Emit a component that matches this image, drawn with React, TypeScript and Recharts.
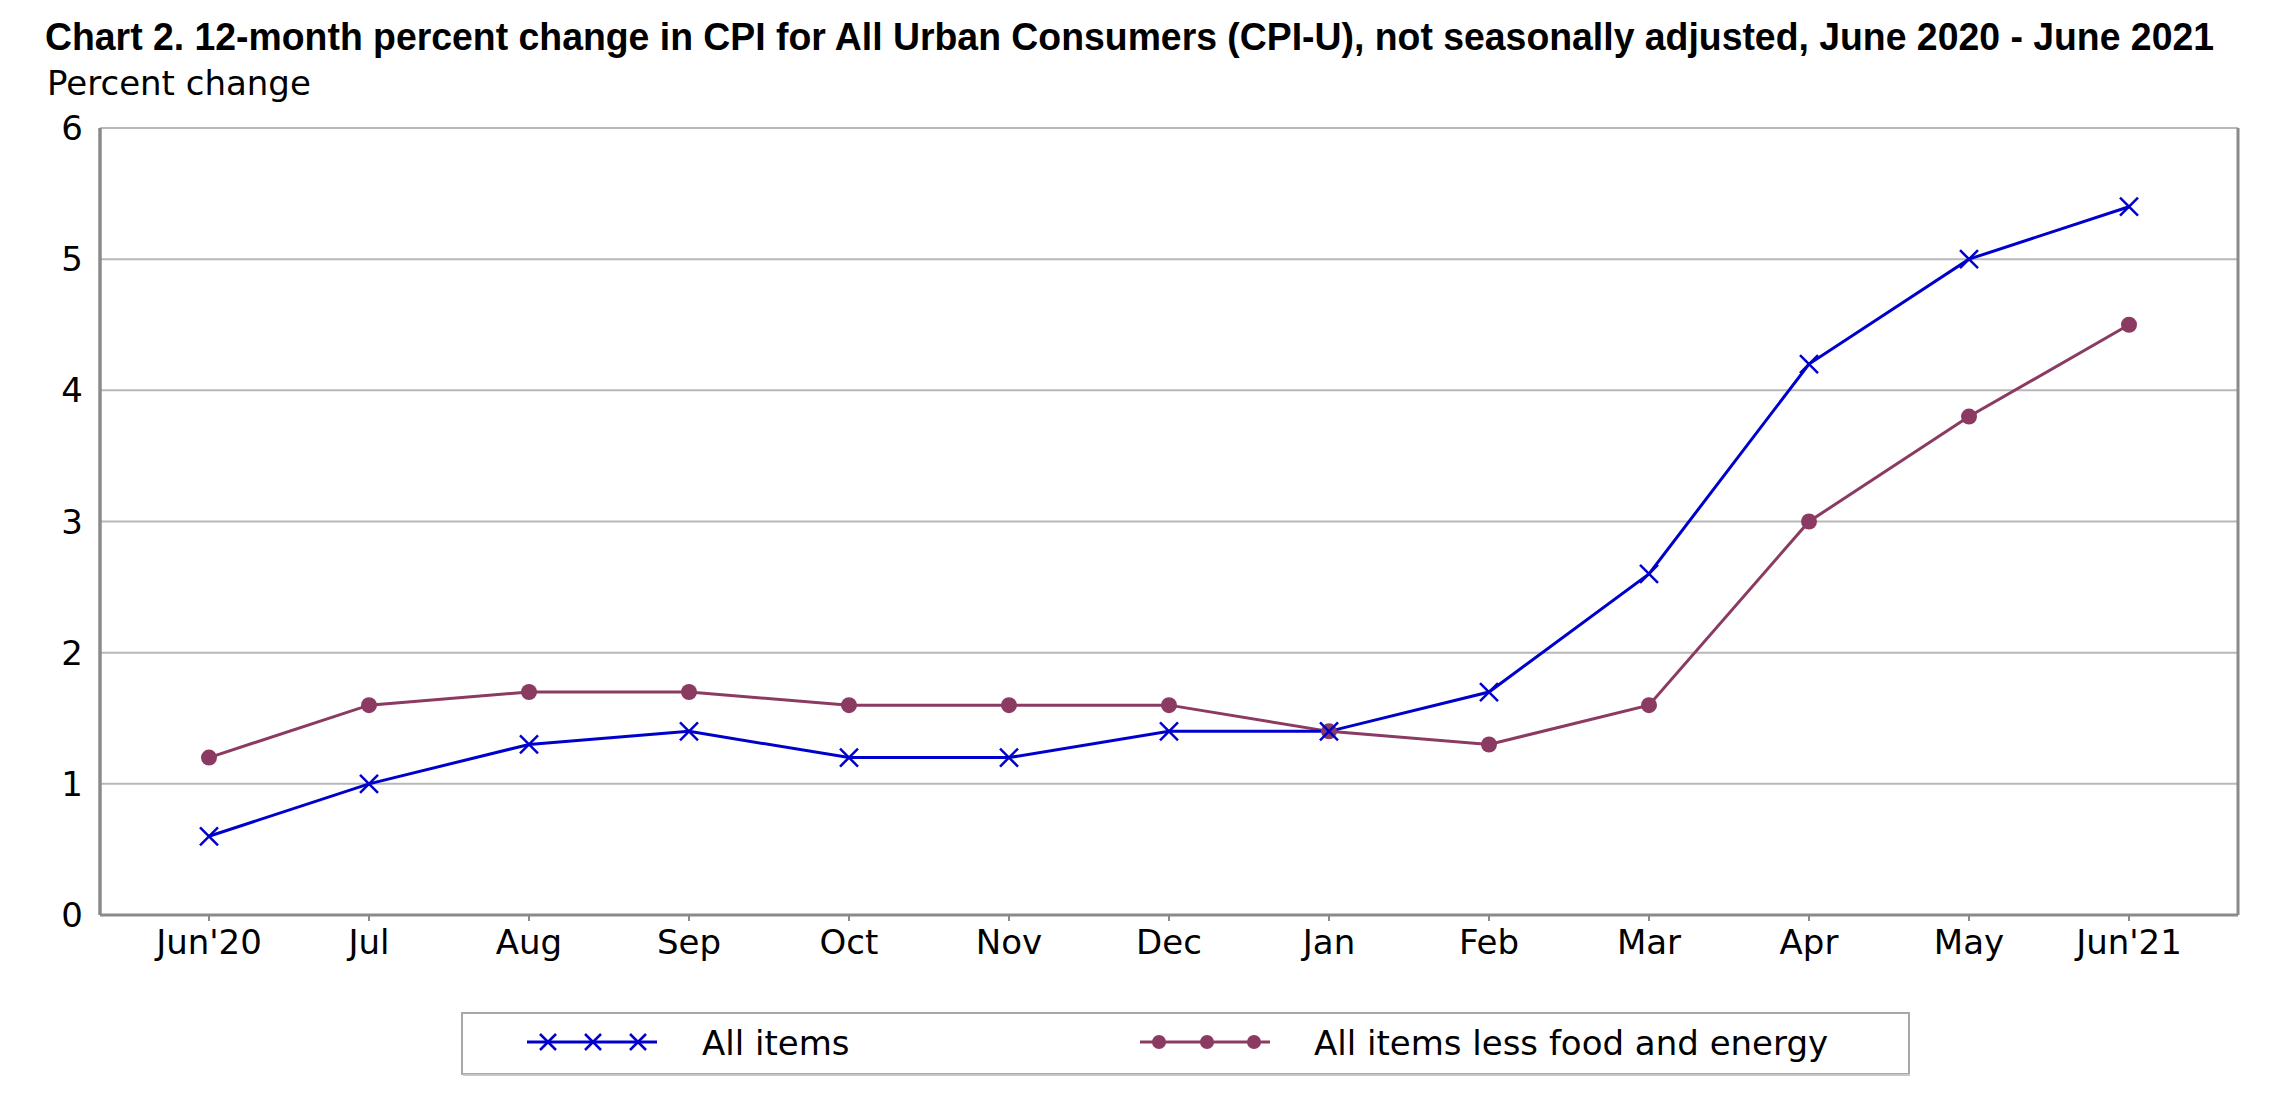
import React from "react";
import { LineChart, Line, XAxis, YAxis, CartesianGrid } from "recharts";

const months = ["Jun'20", "Jul", "Aug", "Sep", "Oct", "Nov", "Dec", "Jan", "Feb", "Mar", "Apr", "May", "Jun'21"];
const allItems = [0.6, 1.0, 1.3, 1.4, 1.2, 1.2, 1.4, 1.4, 1.7, 2.6, 4.2, 5.0, 5.4];
const coreItems = [1.2, 1.6, 1.7, 1.7, 1.6, 1.6, 1.6, 1.4, 1.3, 1.6, 3.0, 3.8, 4.5];
const yTicks = [0, 1, 2, 3, 4, 5, 6];

const seriesNames = ["All items", "All items less food and energy"];
const BLUE = "#0000CC";
const MAROON = "#8B3A62";

const data = months.map((m, i) => ({ month: m, all: allItems[i], core: coreItems[i] }));

const FONT = "'DejaVu Sans', Verdana, sans-serif";
const TITLE =
  "Chart 2. 12-month percent change in CPI for All Urban Consumers (CPI-U), not seasonally adjusted, June 2020 - June 2021";

const XMark = ({ cx, cy, size = 9 }: { cx: number; cy: number; size?: number }) => (
  <g>
    <line x1={cx - size} y1={cy - size} x2={cx + size} y2={cy + size} stroke={BLUE} strokeWidth={2.5} />
    <line x1={cx - size} y1={cy + size} x2={cx + size} y2={cy - size} stroke={BLUE} strokeWidth={2.5} />
  </g>
);

const renderX = (props: any) => {
  const { cx, cy, index } = props;
  if (cx == null || cy == null) return <g key={`x-${index}`} />;
  return (
    <g key={`x-${index}`}>
      <XMark cx={cx} cy={cy} />
    </g>
  );
};

const renderDot = (props: any) => {
  const { cx, cy, index } = props;
  if (cx == null || cy == null) return <g key={`d-${index}`} />;
  return <circle key={`d-${index}`} cx={cx} cy={cy} r={8} fill={MAROON} stroke="none" />;
};

const borderVertical = (props: any) => {
  const off = props.offset || {};
  return [off.left, off.left + off.width];
};

export default function App() {
  const W = 2270;
  const H = 1102;
  return (
    <div style={{ position: "relative", width: W, height: H, background: "#fff" }}>
      <LineChart
        width={W}
        height={H}
        data={data}
        margin={{ top: 120, right: 40, bottom: 135, left: 32 }}
      >
        <CartesianGrid horizontal={true} vertical={false} stroke="#b8b8b8" strokeWidth={2} />
        <CartesianGrid
          horizontal={false}
          vertical={true}
          verticalCoordinatesGenerator={borderVertical}
          stroke="#8a8a8a"
          strokeWidth={3}
        />
        <XAxis
          dataKey="month"
          interval={0}
          height={60}
          padding={{ left: 109, right: 109 }}
          axisLine={{ stroke: "#8a8a8a", strokeWidth: 3 }}
          tickLine={{ stroke: "#8a8a8a", strokeWidth: 2 }}
          tickSize={6}
          tickMargin={9}
          tick={{ fill: "#000", fontSize: 34, fontFamily: FONT }}
        />
        <XAxis
          xAxisId="top"
          orientation="top"
          dataKey="month"
          height={0}
          tick={false}
          tickLine={false}
          axisLine={{ stroke: "#8a8a8a", strokeWidth: 3 }}
        />
        <YAxis
          domain={[0, 6]}
          ticks={yTicks}
          interval={0}
          width={60}
          axisLine={{ stroke: "#8a8a8a", strokeWidth: 3 }}
          tickLine={false}
          tickSize={6}
          tickMargin={11}
          tick={{ fill: "#000", fontSize: 34, fontFamily: FONT }}
        />
        <Line
          type="linear"
          dataKey="core"
          name={seriesNames[1]}
          stroke={MAROON}
          strokeWidth={3}
          dot={renderDot}
          activeDot={false}
          isAnimationActive={false}
        />
        <Line
          type="linear"
          dataKey="all"
          name={seriesNames[0]}
          stroke={BLUE}
          strokeWidth={3}
          dot={renderX}
          activeDot={false}
          isAnimationActive={false}
        />
      </LineChart>
      <svg
        width={W}
        height={H}
        style={{ position: "absolute", left: 0, top: 0, pointerEvents: "none" }}
      >
        <text
          x={37}
          y={42}
          fontFamily="'Liberation Sans Narrow', 'Liberation Sans', Arial, sans-serif"
          fontWeight="bold"
          fontSize={38}
          textLength={2169}
          lengthAdjust="spacingAndGlyphs"
          fill="#000"
        >
          {TITLE}
        </text>
        <text x={39} y={87} fontFamily={FONT} fontSize={34} fill="#000">
          Percent change
        </text>
        <rect x={454} y={1005} width={1447} height={61} fill="#fff" stroke="#a8a8a8" strokeWidth={2} />
        <line x1={455} y1={1067} x2={1902} y2={1067} stroke="#c8c8c8" strokeWidth={2} />
        <line x1={519} y1={1034} x2={649} y2={1034} stroke={BLUE} strokeWidth={3} />
        {[540, 585, 630].map((x) => (
          <XMark key={x} cx={x} cy={1034} size={8} />
        ))}
        <text x={694} y={1047} fontFamily={FONT} fontSize={34} fill="#000">
          {seriesNames[0]}
        </text>
        <line x1={1132} y1={1034} x2={1262} y2={1034} stroke={MAROON} strokeWidth={3} />
        {[1151, 1199, 1246].map((x) => (
          <circle key={x} cx={x} cy={1034} r={7} fill={MAROON} />
        ))}
        <text x={1306} y={1047} fontFamily={FONT} fontSize={34} fill="#000">
          {seriesNames[1]}
        </text>
      </svg>
    </div>
  );
}
